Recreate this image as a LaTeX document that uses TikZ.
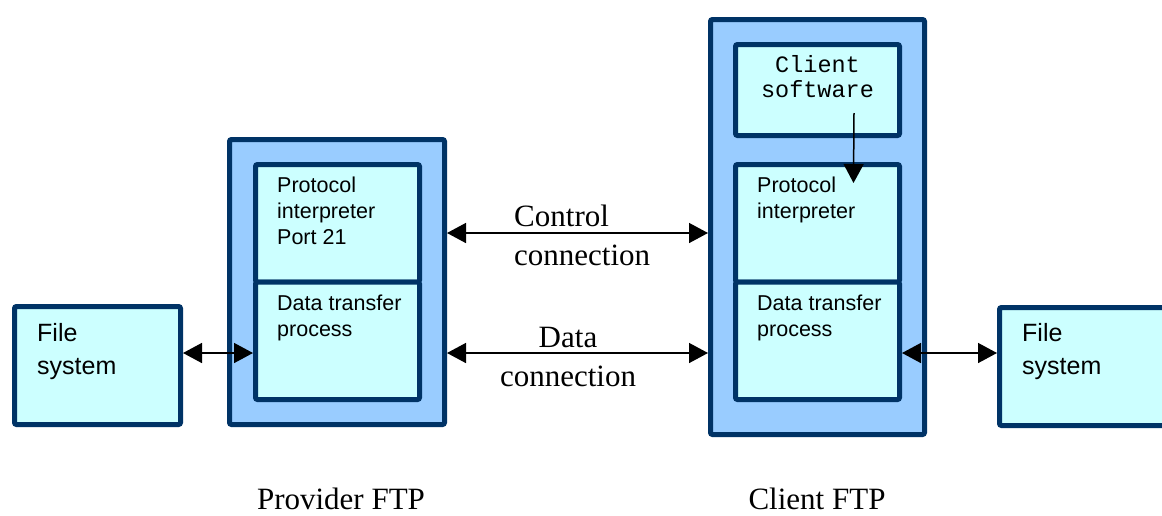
\documentclass[tikz,border=0pt]{standalone}
\usepackage{fontspec}
\setmainfont{Liberation Serif}
\newfontfamily\boxfont{Liberation Sans}
\newfontfamily\codefont{Liberation Mono}
\usepackage{xcolor}
\usetikzlibrary{arrows.meta,positioning}
\definecolor{boxedge}{HTML}{003366}
\definecolor{boxfill}{HTML}{CCFFFF}
\definecolor{hostfill}{HTML}{99CCFF}
\tikzset{
    host/.style={rectangle, draw=boxedge, fill=hostfill, line width=5pt, rounded corners=2pt, inner sep=0pt, anchor=north west},
    block/.style={rectangle, draw=boxedge, fill=boxfill, line width=5pt, rounded corners=2pt, inner sep=0pt, minimum width=164pt, minimum height=117.5pt},
    boxtext/.style={anchor=north west, inner sep=0pt, align=left, font=\boxfont\fontsize{21.5}{26}\selectfont},
    fstext/.style={anchor=north west, inner sep=0pt, align=left, font=\boxfont\fontsize{25}{33}\selectfont},
    linktext/.style={inner sep=0pt, font=\fontsize{31}{39}\selectfont},
    sidetext/.style={anchor=north, inner sep=0pt, font=\fontsize{31}{36}\selectfont},
    line/.style={draw, {Triangle[length=19pt,width=20pt]}-{Triangle[length=19pt,width=20pt]}, line width=1.5pt},
    onehead/.style={line, -{Triangle[length=19pt,width=20pt]}}
}
\begin{document}
\begin{tikzpicture}[x=1pt, y=-1pt]
    \useasboundingbox (0,0) rectangle (1162,515);

    % provider side
    \node[host, minimum width=215pt, minimum height=285pt] (pvhost) at (227,137) {};
    \node[block, anchor=north west] (pvpi) at (253,162) {};
    \node[block, below=-5pt of pvpi] (pvdtp) {};
    \node[boxtext] (pvpi-t) at ([xshift=24pt,yshift=-15pt]pvpi.north west) {Protocol\\interpreter\\Port 21};
    \node[boxtext] (pvdtp-t) at ([xshift=24pt,yshift=-15pt]pvdtp.north west) {Data transfer\\process};

    % client side
    \node[host, minimum width=214pt, minimum height=415pt] (clhost) at (708,17) {};
    \node[block, anchor=north west, minimum height=91pt] (clsw) at (733,42) {};
    \node[block, below=24pt of clsw] (clpi) {};
    \node[block, below=-5pt of clpi] (cldtp) {};
    \node[anchor=north, inner sep=0pt, align=center, font=\codefont\fontsize{23.5}{25}\selectfont] (clsw-t) at ([yshift=-13pt]clsw.north) {Client\\software};
    \node[boxtext] (clpi-t) at ([xshift=24pt,yshift=-15pt]clpi.north west) {Protocol\\interpreter};
    \node[boxtext] (cldtp-t) at ([xshift=24pt,yshift=-15pt]cldtp.north west) {Data transfer\\process};

    % file systems
    \node[block, anchor=north west, minimum width=166pt, minimum height=118pt] (fsleft) at (12,304) {};
    \node[block, anchor=north west, minimum width=166pt, minimum height=118pt] (fsright) at (997,305) {};
    \node[fstext] (fsleft-t) at ([xshift=25pt,yshift=-19pt]fsleft.north west) {File\\system};
    \node[fstext] (fsright-t) at ([xshift=25pt,yshift=-18pt]fsright.north west) {File\\system};

    % connections
    \coordinate (ctl) at (0,233);
    \coordinate (dat) at (0,353);
    \draw[line] (pvhost.east |- ctl) -- (clhost.west |- ctl);
    \draw[line] (pvhost.east |- dat) -- (clhost.west |- dat);
    \draw[line] (fsleft.east |- dat) -- (pvdtp.west |- dat);
    \draw[line] (cldtp.east |- dat) -- (fsright.west |- dat);
    \draw[onehead] ([xshift=36.5pt,yshift=25pt]clsw.south) -- ([xshift=36pt,yshift=-21pt]clpi.north);

    \node[linktext, anchor=north west, align=left] (ctl-t) at (514,205) {Control\\connection};
    \node[linktext, anchor=north, align=center] (dat-t) at (568,327) {Data\\connection};

    \node[sidetext] (pv-t) at (341,488) {Provider FTP};
    \node[sidetext] (cl-t) at (817,488) {Client FTP};
\end{tikzpicture}
\end{document}
